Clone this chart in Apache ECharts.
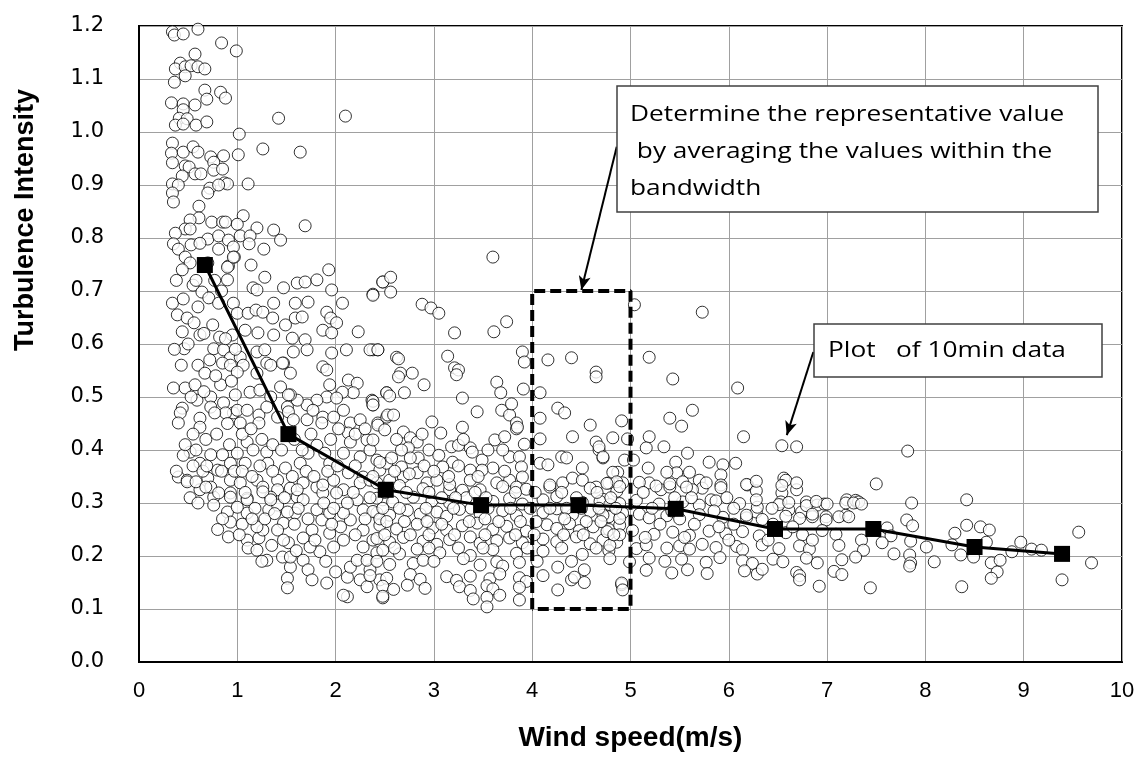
<!DOCTYPE html>
<html>
<head>
<meta charset="utf-8">
<script src="https://cdn.jsdelivr.net/npm/echarts@6/dist/echarts.min.js"></script>
<style>html,body{margin:0;padding:0;background:#fff}#c{width:1142px;height:758px}</style>
</head>
<body>
<div id="c"></div>
<script>
// ---- data ----
var xTicks = [0,1,2,3,4,5,6,7,8,9,10];
var yTicks = [0.0,0.1,0.2,0.3,0.4,0.5,0.6,0.7,0.8,0.9,1.0,1.1,1.2];

// 10-min data points [wind speed, turbulence intensity]
var ptsUpperLeft = [[0.34,1.189],[0.36,1.183],[0.45,1.185],[0.60,1.194],[0.84,1.168],[0.99,1.153],[0.57,1.147],[0.42,1.130],[0.37,1.119],[0.47,1.123],[0.53,1.125],[0.60,1.123],[0.67,1.119],[0.47,1.106],[0.36,1.094],[0.67,1.079],[0.83,1.075],[0.88,1.064],[0.69,1.062],[0.33,1.055],[0.45,1.053],[0.57,1.051],[0.45,1.042],[0.41,1.026],[0.49,1.025],[0.37,1.013],[0.45,1.015],[0.58,1.013],[0.69,1.019],[1.42,1.026],[2.10,1.030],[1.02,0.996],[0.34,0.979],[0.33,0.960],[0.34,0.942],[0.45,0.962],[0.55,0.972],[0.60,0.962],[0.73,0.953],[0.86,0.955],[1.01,0.957],[1.26,0.968],[1.64,0.962],[0.47,0.936],[0.51,0.934],[0.57,0.921],[0.63,0.921],[0.44,0.917],[0.76,0.943],[0.76,0.928],[0.85,0.930],[0.34,0.902],[0.40,0.900],[0.34,0.885],[0.35,0.868],[0.72,0.894],[0.70,0.885],[0.87,0.904],[0.90,0.902],[0.81,0.900],[1.11,0.902],[0.61,0.860],[1.06,0.842],[0.61,0.838],[0.52,0.834],[0.47,0.817],[0.52,0.817],[0.74,0.830],[0.85,0.830],[1.00,0.826],[1.20,0.819],[1.37,0.815],[1.44,0.796],[1.69,0.823],[0.37,0.809],[0.35,0.789],[0.40,0.779],[0.53,0.787],[0.70,0.798],[0.81,0.804],[0.81,0.779],[0.91,0.796],[0.96,0.783],[1.03,0.804],[1.13,0.804],[1.12,0.789],[0.97,0.764],[1.27,0.779],[0.47,0.764],[0.52,0.753],[0.70,0.753],[1.14,0.749],[0.91,0.747],[1.93,0.740]];

var ptsMidLeft = [[0.90,0.745],[0.96,0.764],[0.90,0.721],[0.55,0.711],[0.64,0.698],[1.16,0.706],[1.20,0.702],[1.28,0.726],[1.47,0.706],[1.61,0.715],[1.69,0.717],[1.81,0.721],[1.96,0.702],[2.07,0.677],[2.23,0.623],[2.38,0.694],[2.48,0.717],
[0.34,0.677],[0.45,0.685],[0.39,0.655],[0.49,0.649],[0.60,0.670],[0.71,0.687],[0.81,0.677],[0.96,0.677],[1.00,0.658],[1.11,0.658],[1.19,0.664],[1.26,0.660],[1.37,0.677],[1.36,0.649],[1.49,0.636],[1.59,0.677],[1.59,0.649],[1.72,0.679],[1.66,0.651],[1.91,0.660],[1.95,0.649],[2.01,0.640],[1.87,0.626],[1.96,0.621],
[0.44,0.623],[0.62,0.617],[0.75,0.636],[0.82,0.613],[0.95,0.617],[1.08,0.626],[1.21,0.621],[1.37,0.617],[1.56,0.611],[1.69,0.608],
[0.46,0.591],[0.76,0.591],[0.86,0.589],[0.93,0.574],[1.03,0.575],[1.20,0.585],[1.28,0.589],[1.30,0.564],[1.47,0.564],[1.57,0.585],[1.71,0.589],[1.96,0.583],[2.11,0.589],[2.38,0.589],[2.43,0.589],[1.87,0.557],[1.91,0.551],
[0.60,0.560],[0.67,0.545],[0.85,0.564],[0.93,0.560],[1.06,0.560],[1.00,0.547],[1.20,0.545],[1.34,0.560],[1.46,0.564],[1.54,0.545],
[0.35,0.517],[0.47,0.517],[0.57,0.523],[0.83,0.523],[1.13,0.509],[1.23,0.513],[1.34,0.500],[1.44,0.519],
[1.94,0.523],[2.13,0.532],[2.22,0.526],[2.18,0.508],[2.07,0.509],[1.91,0.500],[2.01,0.498],[1.81,0.494],[1.71,0.485],[1.61,0.494],[1.54,0.504],[2.37,0.494],[2.52,0.508],[2.38,0.485],
[0.44,0.479],[0.42,0.470],[0.40,0.451],[0.62,0.460],[0.62,0.443],[0.59,0.494],[0.73,0.500],[0.73,0.481],[0.86,0.489],[0.98,0.504],[0.96,0.470],[1.00,0.475],[1.03,0.451],[0.88,0.470],[1.10,0.475],[1.22,0.466],[1.22,0.451],[1.30,0.481],[1.41,0.462],[1.52,0.504],[1.51,0.481],[1.52,0.472],[1.57,0.457],[1.71,0.457],[1.77,0.475],[1.87,0.462],[1.86,0.451],[1.98,0.462],[2.08,0.475],[2.15,0.451],[2.25,0.457],[2.32,0.419],[2.43,0.451],[2.52,0.462],[2.13,0.432],
[0.52,0.396],[0.62,0.375],[0.73,0.391],[0.85,0.391],[0.80,0.362],[0.93,0.375],[1.00,0.394],[1.08,0.375],[1.10,0.415],[1.16,0.400],[1.30,0.396],[1.31,0.375],[1.20,0.343],[1.41,0.343],[1.49,0.366],[1.64,0.375],[1.72,0.394],[1.81,0.409],[1.89,0.394],[1.94,0.375],[2.08,0.394],[2.15,0.415],[2.25,0.387],[2.35,0.400],[2.42,0.381],[2.45,0.362],[0.40,0.349],[0.49,0.343],[0.70,0.347],[0.93,0.343],[1.03,0.338],[1.26,0.330],[1.41,0.325],[1.54,0.328],[1.67,0.338],[1.81,0.330],[1.98,0.343],[2.13,0.357],[2.28,0.349],[2.52,0.375],[0.62,0.325],[0.76,0.311],[0.93,0.319],[1.10,0.309],[1.34,0.311],[1.61,0.311],[1.87,0.319],[2.08,0.325],[2.25,0.338]];

var ptsLowLeft = [[0.49,0.340],[0.73,0.330],[0.81,0.319],[0.93,0.311],[0.76,0.296],[0.90,0.283],[0.93,0.264],[0.91,0.236],[1.10,0.306],[1.10,0.281],[1.10,0.230],[1.11,0.215],[1.20,0.211],[1.22,0.234],[1.30,0.192],[1.26,0.249],[1.32,0.287],[1.41,0.296],[1.47,0.262],[1.46,0.198],[1.52,0.225],[1.54,0.179],[1.51,0.158],[1.51,0.140],[1.59,0.281],[1.67,0.306],[1.67,0.234],[1.67,0.192],[1.72,0.174],[1.76,0.155],[1.81,0.287],[1.76,0.249],[1.86,0.268],[1.84,0.208],[1.91,0.149],[1.94,0.281],[1.98,0.217],[2.08,0.230],[2.12,0.123],[2.08,0.126],[2.12,0.160],[2.15,0.179],[2.22,0.192],[2.25,0.155],[2.28,0.217],[2.32,0.142],[2.35,0.174],[2.42,0.206],[2.45,0.155],[2.48,0.121],[2.28,0.249],[2.15,0.268],[2.42,0.281],[2.48,0.306],[2.01,0.319],[1.87,0.334],[1.61,0.325],[1.26,0.321],[1.41,0.249],[1.47,0.230],[1.54,0.198],[1.74,0.217],[1.79,0.230],[1.94,0.243],[2.05,0.255],[1.51,0.283],[2.08,0.281],[2.28,0.287],[2.32,0.192],[2.38,0.230],[2.22,0.306],[1.34,0.306],[1.20,0.255],[1.00,0.292],
[0.38,0.360],[0.45,0.390],[0.55,0.370],[0.58,0.340],[0.65,0.360],[0.68,0.330],[0.52,0.310],[0.60,0.300],[0.85,0.270],[0.80,0.250]];

var ptsCenter = [[3.60,0.764],[2.48,0.717],[2.56,0.726],[2.56,0.698],[2.38,0.692],[2.88,0.675],[2.97,0.668],[3.05,0.658],[3.21,0.621],[3.61,0.623],[3.74,0.642],[2.35,0.589],[2.43,0.589],[2.62,0.575],[2.64,0.572],[2.66,0.545],[2.64,0.538],[2.78,0.545],[2.90,0.523],[3.14,0.577],[3.21,0.555],[3.25,0.551],[3.23,0.542],[3.90,0.585],[3.92,0.566],[4.16,0.570],[4.40,0.574],[4.65,0.547],[4.65,0.538],[3.64,0.528],[3.68,0.508],[3.91,0.515],[4.08,0.508],[2.52,0.508],[2.55,0.502],[2.70,0.508],[2.38,0.492],[2.38,0.485],[3.29,0.498],[3.44,0.472],[3.69,0.475],[3.77,0.466],[3.79,0.487],[3.84,0.451],[4.26,0.479],[4.33,0.470],[4.59,0.447],[4.41,0.425],[4.82,0.423],[4.91,0.455],[4.08,0.460],[4.08,0.421],[2.53,0.466],[2.59,0.466],[2.43,0.447],[2.50,0.438],[2.38,0.419],[2.98,0.453],[3.07,0.432],[3.29,0.443],[2.69,0.434],[2.76,0.423],[2.83,0.415],[2.74,0.404],[2.67,0.400],[2.84,0.385],[2.76,0.385],[2.57,0.385],[2.45,0.377],[2.67,0.368],[3.18,0.406],[3.25,0.409],[3.37,0.404],[3.39,0.396],[3.49,0.381],[3.19,0.377],[3.09,0.368],[3.25,0.370],[3.37,0.362],[3.60,0.366],[3.49,0.362],[3.62,0.419],[3.72,0.425],[3.84,0.440],[3.85,0.443],[3.92,0.411],[3.77,0.387],[3.87,0.387],[3.89,0.368],[3.90,0.349],[4.08,0.375],[4.16,0.372],[4.30,0.387],[4.35,0.385],[4.51,0.366],[4.65,0.415],[4.68,0.400],[4.72,0.385],[4.87,0.358],[4.94,0.381],[4.18,0.330],[4.31,0.338],[4.41,0.347],[4.51,0.343],[4.65,0.330],[4.78,0.338],[4.92,0.338],[2.35,0.343],[2.42,0.338],[2.55,0.343],[2.69,0.349],[2.83,0.357],[2.93,0.338],[3.03,0.343],[3.16,0.325],[3.37,0.343],[3.47,0.325],[3.64,0.338],[3.77,0.343],[3.84,0.330]];

var ptsLowCenter = [[2.65,0.333],[2.89,0.327],[3.16,0.335],[3.29,0.324],[3.70,0.331],[3.94,0.326],[4.18,0.334],[4.59,0.328],[4.86,0.322],
[2.42,0.309],[2.58,0.302],[2.79,0.311],[2.98,0.304],[3.16,0.300],[3.33,0.310],[3.60,0.303],[3.77,0.308],[3.90,0.298],[4.11,0.306],[4.25,0.312],[4.51,0.301],[4.72,0.307],[4.89,0.299],
[2.38,0.284],[2.55,0.277],[2.73,0.286],[2.86,0.279],[3.03,0.283],[3.13,0.275],[3.26,0.288],[3.47,0.280],[3.70,0.285],[3.84,0.276],[4.11,0.282],[4.25,0.289],[4.41,0.278],[4.59,0.284],[4.78,0.274],[4.92,0.281],
[2.45,0.258],[2.62,0.251],[2.83,0.260],[2.99,0.253],[3.13,0.249],[3.29,0.257],[3.44,0.262],[3.60,0.250],[3.74,0.256],[3.94,0.247],[4.15,0.259],[4.25,0.252],[4.38,0.261],[4.48,0.248],[4.62,0.255],[4.78,0.250],[4.89,0.258],
[2.42,0.233],[2.55,0.226],[2.69,0.235],[2.89,0.228],[3.03,0.222],[3.16,0.231],[3.37,0.236],[3.47,0.224],[3.64,0.229],[3.77,0.234],[3.90,0.225],[4.11,0.232],[4.25,0.227],[4.45,0.236],[4.59,0.223],[4.72,0.230],[4.86,0.226],
[2.48,0.211],[2.65,0.204],[2.83,0.213],[3.06,0.206],[3.37,0.201],[3.60,0.212],[3.84,0.205],[4.11,0.209],[4.51,0.203],[4.78,0.210],
[2.42,0.190],[2.55,0.184],[2.79,0.186],[2.89,0.192],[3.47,0.183],[3.64,0.189],[3.70,0.181],[3.87,0.188],
[2.35,0.163],[2.52,0.158],[2.76,0.165],[2.86,0.156],[3.13,0.161],[3.23,0.154],[3.37,0.162],[3.57,0.157],[3.67,0.166],[3.87,0.159],[3.94,0.152],[4.11,0.163],[4.40,0.155],[4.43,0.160],[4.53,0.150],
[2.48,0.143],[2.59,0.137],[2.73,0.145],[2.91,0.139],[3.26,0.142],[3.37,0.135],[3.54,0.144],[3.60,0.138],[3.87,0.141],[4.26,0.136],[4.91,0.146],
[2.48,0.124],[3.40,0.119],[3.54,0.122],[3.67,0.126],[3.87,0.117],[3.54,0.104],[4.26,0.179],[4.53,0.174]];

var ptsRight = [[5.04,0.674],[5.73,0.660],[5.19,0.575],[5.43,0.534],[6.09,0.517],[5.63,0.475],[5.40,0.460],[5.52,0.445],[6.15,0.425],[6.54,0.408],[6.69,0.406],[5.19,0.425],[5.34,0.406],[5.16,0.404],[4.97,0.421],[5.58,0.394],[4.68,0.406],[4.72,0.387],[5.80,0.377],[5.94,0.372],[6.07,0.375],[5.92,0.353],[5.92,0.334],[6.19,0.334],[6.28,0.323],[6.56,0.347],[6.58,0.343],[6.69,0.325],[6.54,0.319],[6.53,0.302],[5.46,0.377],[5.47,0.357],[5.60,0.358],[5.70,0.343],[5.73,0.328],[5.37,0.358],[5.18,0.366],[5.03,0.381],[4.82,0.358],[4.86,0.340],[5.19,0.338],[5.31,0.325],[5.40,0.330],[5.53,0.340],[5.63,0.325],[5.82,0.306],[6.79,0.302],[6.90,0.296],[6.97,0.298],[7.20,0.306],[7.30,0.302],[7.19,0.277],[6.18,0.272],[6.28,0.283],[6.29,0.292],[6.61,0.287],[6.74,0.283],[6.85,0.274],[6.99,0.274]];

var ptsLowRight = [[4.76,0.337],[4.89,0.331],[5.09,0.339],[5.26,0.332],[5.40,0.336],[5.57,0.330],[5.77,0.338],[5.92,0.329],[6.18,0.335],[6.28,0.341],[6.54,0.333],[6.69,0.338],
[4.69,0.303],[4.79,0.297],[5.06,0.305],[5.29,0.298],[5.53,0.302],[5.70,0.296],[5.87,0.304],[6.11,0.299],[6.28,0.306],[6.51,0.297],[6.61,0.301],[6.79,0.295],[6.89,0.303],[7.00,0.298],[7.19,0.300],[7.29,0.305],
[4.72,0.277],[4.89,0.271],[5.09,0.279],[5.19,0.272],[5.37,0.276],[5.50,0.270],[5.70,0.278],[5.94,0.273],[6.18,0.277],[6.34,0.269],[6.58,0.275],[6.72,0.271],[6.85,0.279],[6.99,0.268],[7.12,0.274],
[4.76,0.246],[4.89,0.240],[5.02,0.248],[5.24,0.241],[5.43,0.245],[5.60,0.239],[5.80,0.247],[5.97,0.242],[6.14,0.246],[6.31,0.238],[6.58,0.244],[6.75,0.240],[6.95,0.248],[7.09,0.241],
[4.79,0.220],[5.06,0.214],[5.16,0.221],[5.37,0.215],[5.50,0.219],[5.60,0.213],[5.73,0.222],[5.87,0.216],[6.08,0.218],[6.14,0.212],[6.34,0.221],[6.51,0.214],[6.72,0.219],[6.82,0.213],[7.12,0.220],
[4.79,0.195],[4.99,0.189],[5.19,0.196],[5.35,0.190],[5.52,0.194],[5.77,0.188],[5.91,0.197],[6.14,0.191],[6.24,0.186],[6.45,0.194],[6.55,0.189],[6.79,0.196],[6.90,0.187],[7.15,0.193],
[5.16,0.173],[5.42,0.168],[5.58,0.174],[5.78,0.167],[6.16,0.172],[6.29,0.166],[6.34,0.175],[6.69,0.169],[6.72,0.163],[7.07,0.171],[7.15,0.165],
[6.72,0.155],[6.92,0.143],[4.91,0.149],[4.92,0.136]];

var ptsFarRight = [[7.82,0.398],[7.50,0.336],[8.42,0.306],[7.32,0.302],[7.27,0.300],[7.35,0.298],[7.86,0.300],[7.22,0.274],[7.81,0.268],[7.87,0.257],[7.61,0.253],[7.65,0.238],[7.85,0.228],[7.56,0.225],[7.35,0.230],[7.37,0.211],[7.29,0.198],[7.68,0.204],[8.01,0.217],[7.84,0.202],[7.85,0.187],[7.84,0.181],[8.09,0.189],[7.44,0.140],
[8.30,0.243],[8.42,0.258],[8.56,0.255],[8.65,0.249],[8.27,0.221],[8.36,0.202],[8.49,0.198],[8.62,0.226],[8.67,0.187],[8.73,0.170],[8.67,0.158],[8.76,0.192],[8.88,0.208],[8.97,0.226],[9.08,0.213],[9.18,0.211],[9.56,0.245],[9.69,0.187],[9.39,0.155],[8.37,0.142]];

// extra points estimated in the densest parts of the cloud
var ptsDenseLeft = [[0.43,0.56],[0.50,0.60],[0.56,0.64],[0.66,0.62],[0.72,0.57],[0.78,0.54],[0.88,0.61],[0.98,0.59],[0.53,0.50],[0.66,0.51],[0.77,0.47],[0.90,0.45],[0.94,0.53],[0.55,0.43],[0.68,0.42],[0.79,0.43],[0.92,0.41],[0.47,0.41],[0.58,0.40],[0.69,0.37],[0.84,0.36],[0.97,0.36],[0.36,0.59],[0.38,0.72],[0.44,0.74],[0.58,0.72],[0.77,0.72],[0.84,0.70],[0.62,0.79],[0.88,0.83],
[1.05,0.43],[1.14,0.44],[1.25,0.42],[1.36,0.41],[1.45,0.40],[1.58,0.42],[1.66,0.40],[1.75,0.43],[1.95,0.42],[2.03,0.44],[2.20,0.43],[2.30,0.44],[1.05,0.36],[1.15,0.35],[1.23,0.37],[1.36,0.36],[1.56,0.35],[1.70,0.36],[1.78,0.35],[1.92,0.36],[2.02,0.37],[2.20,0.37],[2.38,0.35],[1.08,0.32],[1.18,0.29],[1.28,0.27],[1.38,0.28],[1.48,0.31],[1.62,0.29],[1.72,0.27],[1.88,0.30],[1.98,0.29],[2.12,0.30],[2.18,0.32],[2.35,0.31],[2.45,0.27],[1.05,0.26],[1.15,0.27],[1.58,0.26],[1.96,0.26],[2.30,0.27],[1.02,0.24],[1.35,0.22],[1.60,0.21],[1.90,0.19],[2.00,0.17],[2.20,0.24],[1.25,0.19]];

var ptsDenseMid = [[2.50,0.32],[2.72,0.32],[2.95,0.32],[3.08,0.31],[3.22,0.31],[3.42,0.32],[3.53,0.31],[3.83,0.32],[4.03,0.32],[4.30,0.32],[4.45,0.31],[4.66,0.32],[4.80,0.31],[2.48,0.29],[2.65,0.29],[2.92,0.29],[3.20,0.29],[3.38,0.29],[3.55,0.29],[3.78,0.29],[3.98,0.29],[4.18,0.29],[4.35,0.29],[4.50,0.29],[4.68,0.29],[4.85,0.29],[2.52,0.265],[2.70,0.265],[2.93,0.265],[3.08,0.26],[3.36,0.265],[3.52,0.27],[3.66,0.265],[3.88,0.265],[4.04,0.265],[4.33,0.27],[4.55,0.265],[4.70,0.265],[2.50,0.24],[2.76,0.24],[2.95,0.24],[3.21,0.24],[3.52,0.24],[3.83,0.24],[4.02,0.24],[4.32,0.24],[4.52,0.24],[4.83,0.24],[2.60,0.215],[2.95,0.215],[3.25,0.215],[3.50,0.215],[3.95,0.215],[4.30,0.215],[4.65,0.215],[3.00,0.19],[3.30,0.195],[4.05,0.19],[4.40,0.19],
[5.13,0.32],[5.45,0.31],[5.62,0.31],[5.98,0.31],[6.05,0.29],[5.22,0.29],[5.42,0.285],[5.85,0.285],[6.44,0.29],[5.30,0.26],[5.65,0.26],[5.90,0.255],[6.05,0.26],[6.45,0.26],[6.65,0.255],[5.15,0.235],[5.55,0.235],[6.00,0.23],[6.40,0.23],[6.85,0.23],
[2.62,0.42],[2.88,0.43],[2.95,0.40],[3.05,0.39],[3.30,0.42],[3.55,0.40],[3.70,0.40],[2.90,0.37],[3.00,0.36],[3.15,0.35],[3.45,0.35],[3.72,0.36],[2.60,0.36],[2.75,0.355]];

// representative (bin-averaged) values
var binSpeed = [0.67, 1.52, 2.51, 3.48, 4.47, 5.46, 6.47, 7.47, 8.50, 9.39];
var binTI    = [0.749, 0.430, 0.325, 0.296, 0.296, 0.289, 0.251, 0.251, 0.217, 0.204];

// averaging bandwidth shown as the dashed box
var bandX = [4, 4, 5, 5, 4];
var bandY = [0.1, 0.7, 0.7, 0.1, 0.1];

// ---- chart ----
var scatterData = [].concat(ptsUpperLeft, ptsMidLeft, ptsLowLeft, ptsCenter, ptsLowCenter, ptsRight, ptsLowRight, ptsFarRight, ptsDenseLeft, ptsDenseMid);
var meanData = binSpeed.map(function(x, i){ return [x, binTI[i]]; });
var bandData = bandX.map(function(x, i){ return [x, bandY[i]]; });

var chart = echarts.init(document.getElementById('c'), null, {renderer:'canvas'});
var boxFont = '21px "Open Sans", "Noto Sans", sans-serif';
chart.setOption({
  animation: false,
  backgroundColor: '#fff',
  grid: { left: 139, right: 20, top: 26, bottom: 96, show: true, borderColor: '#000', borderWidth: 2, backgroundColor: 'transparent' },
  xAxis: {
    type: 'value', min: 0, max: 10, interval: 1,
    name: 'Wind speed(m/s)', nameLocation: 'middle', nameGap: 62,
    nameTextStyle: { fontFamily: 'Liberation Sans', fontWeight: 'bold', fontSize: 28, color: '#000' },
    axisLine: { lineStyle: { color: '#000', width: 2 } },
    axisTick: { show: false },
    axisLabel: { fontFamily: '"Liberation Sans Narrow", "Liberation Sans"', fontSize: 22, color: '#000', margin: 18 },
    splitLine: { lineStyle: { color: '#a0a0a0', width: 1 } }
  },
  yAxis: {
    type: 'value', min: 0, max: 1.2, interval: 0.1,
    axisLine: { show: true, lineStyle: { color: '#000', width: 2 } },
    axisTick: { show: false },
    axisLabel: { fontFamily: 'DejaVu Sans', fontSize: 21, color: '#000', margin: 35,
      formatter: function(v){ return v.toFixed(1); } },
    splitLine: { lineStyle: { color: '#a0a0a0', width: 1 } }
  },
  series: [
    { type: 'scatter', data: scatterData, symbol: 'circle', symbolSize: 12,
      itemStyle: { color: '#fff', borderColor: '#000', borderWidth: 1 }, z: 2, silent: true },
    { type: 'line', data: bandData, symbol: 'none', z: 3, silent: true,
      lineStyle: { color: '#000', width: 4, type: [11, 5] } },
    { type: 'line', data: meanData, symbol: 'rect', symbolSize: 16, z: 4, silent: true,
      lineStyle: { color: '#000', width: 3 }, itemStyle: { color: '#000' } },
    { type: 'scatter', data: [], z: 5, silent: true,
      markLine: { silent: true, symbol: ['none', 'arrow'], symbolSize: [9, 14], label: { show: false },
        lineStyle: { color: '#000', width: 2, type: 'solid' },
        data: [
          [ { coord: [4.86, 0.972] }, { coord: [4.50, 0.702] } ],
          [ { coord: [6.86, 0.585] }, { coord: [6.59, 0.428] } ]
        ] } }
  ],
  graphic: [
    { type: 'text', x: 26, y: 220, rotation: Math.PI/2, z: 10,
      style: { text: 'Turbulence Intensity', font: 'bold 27px "Liberation Sans", Arial, sans-serif', fill: '#000', align: 'center', verticalAlign: 'middle' } },
    { type: 'rect', shape: { x: 617, y: 86, width: 481, height: 126 }, z: 10,
      style: { fill: '#fff', stroke: '#404040', lineWidth: 1.5 } },
    { type: 'text', x: 630, y: 97, scaleX: 1.25, z: 11,
      style: { text: 'Determine the representative value\n by averaging the values within the\nbandwidth', font: boxFont, lineHeight: 37, fill: '#000', align: 'left', verticalAlign: 'top' } },
    { type: 'rect', shape: { x: 814, y: 324, width: 288, height: 53 }, z: 10,
      style: { fill: '#fff', stroke: '#404040', lineWidth: 1.5 } },
    { type: 'text', x: 828, y: 351, scaleX: 1.25, z: 11,
      style: { text: 'Plot   of 10min data', font: boxFont, fill: '#000', align: 'left', verticalAlign: 'middle' } }
  ]
});
</script>
</body>
</html>
